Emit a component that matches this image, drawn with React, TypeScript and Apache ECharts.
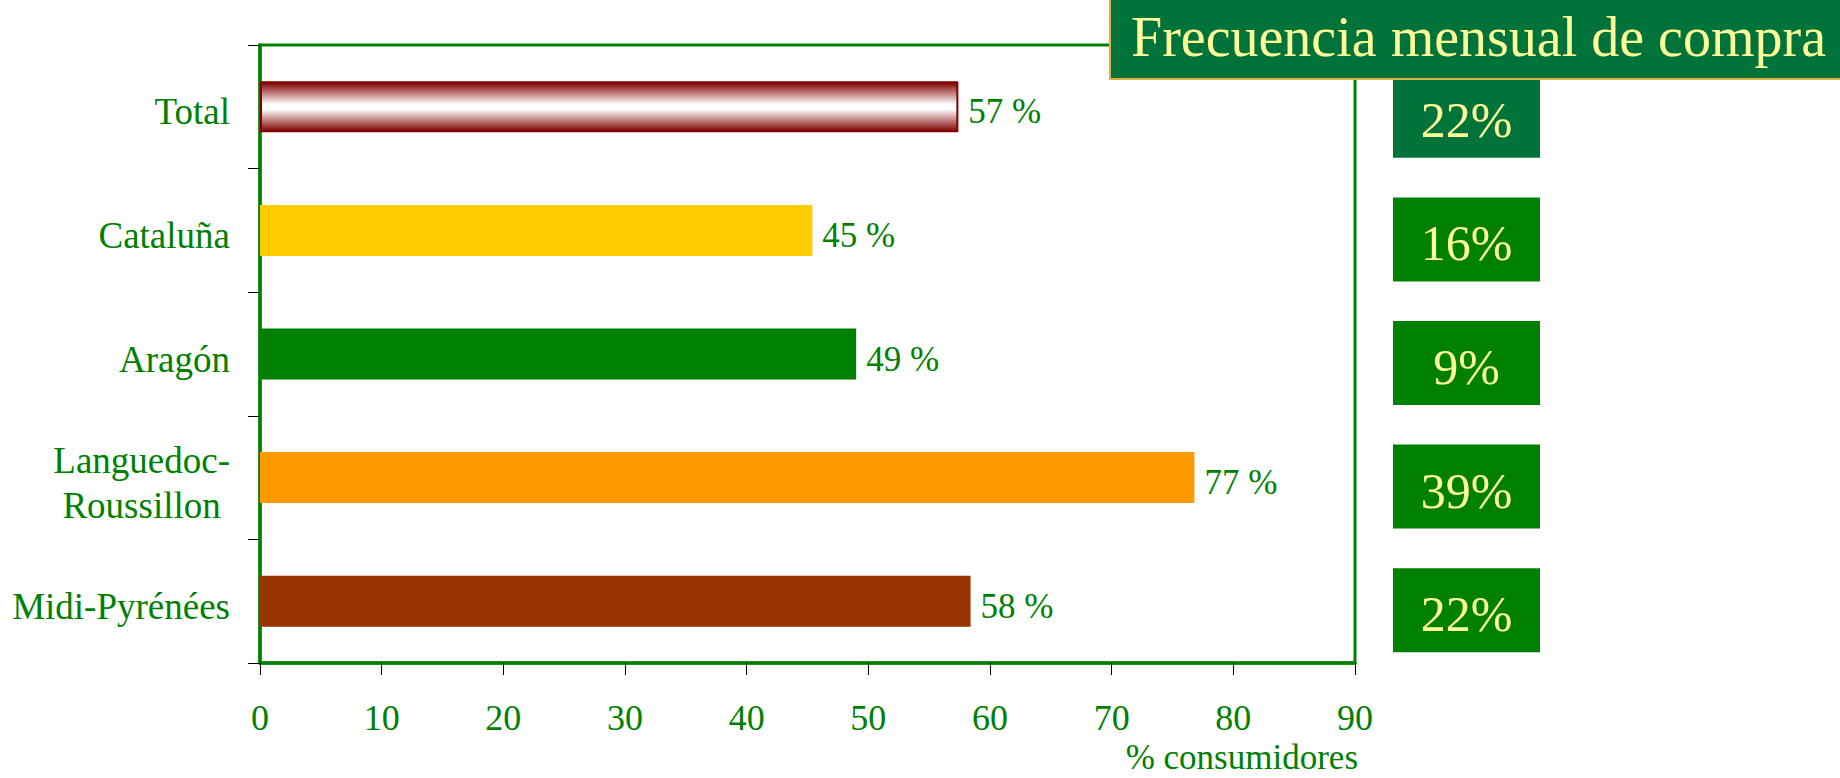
import React, { useEffect, useRef } from "react";
import * as echarts from "echarts";

const categories = ["Total", "Cataluña", "Aragón", "Languedoc-\nRoussillon\u00A0", "Midi-Pyrénées"];
const values = [57.4, 45.4, 49.0, 76.8, 58.4];
const barColors = ["gradient", "#FFCC00", "#008000", "#FF9900", "#993300"];
const freqLabels = ["22%", "16%", "9%", "39%", "22%"];
const freqColors = ["#00733A", "#008000", "#008000", "#008000", "#008000"];
const xTicks = { min: 0, max: 90, interval: 10 };
const titleText = "Frecuencia mensual de compra";
const axisName = "% consumidores";

const FONT = "'Liberation Serif', 'Times New Roman', serif";
const GREEN = "#008000";

export default function App() {
  const ref = useRef<HTMLDivElement>(null);
  useEffect(() => {
    if (!ref.current) return;
    const chart = echarts.init(ref.current, null, { renderer: "svg" });
    const totalGradient = new echarts.graphic.LinearGradient(0, 0, 0, 1, [
      { offset: 0, color: "#800000" },
      { offset: 0.45, color: "#FFFFFF" },
      { offset: 0.55, color: "#FFFFFF" },
      { offset: 1, color: "#800000" },
    ]);
    const option: any = {
      animation: false,
      backgroundColor: "#FFFFFF",
      grid: {
        left: 260,
        top: 45,
        width: 1095,
        height: 618,
        show: true,
        borderColor: GREEN,
        borderWidth: 3,
        backgroundColor: "transparent",
      },
      xAxis: {
        type: "value",
        min: xTicks.min,
        max: xTicks.max,
        interval: xTicks.interval,
        axisLine: { show: true, lineStyle: { color: GREEN, width: 3.5 } },
        axisTick: { show: true, length: 12, lineStyle: { color: "#000000", width: 1 } },
        splitLine: { show: false },
        axisLabel: { color: GREEN, fontSize: 36, fontFamily: FONT, margin: 39, lineHeight: 32 },
      },
      yAxis: {
        type: "category",
        data: categories,
        inverse: true,
        axisLine: { show: true, lineStyle: { color: GREEN, width: 3.5 } },
        axisTick: { show: true, length: 12, lineStyle: { color: "#000000", width: 1 } },
        axisLabel: {
          color: GREEN,
          fontSize: 37,
          fontFamily: FONT,
          margin: 30,
          formatter: (v: string) =>
            v
              .split("\n")
              .map((l) => `{a|${l}}`)
              .join("\n"),
          rich: {
            a: {
              color: GREEN,
              fontSize: 37,
              fontFamily: FONT,
              lineHeight: 45,
              padding: [10, 0, 0, 0],
            },
          },
        },
        splitLine: { show: false },
      },
      series: [
        {
          type: "bar",
          barWidth: 51,
          data: values.map((v, i) => ({
            value: v,
            itemStyle:
              barColors[i] === "gradient"
                ? { color: totalGradient, borderColor: "#800000", borderWidth: 2 }
                : { color: barColors[i] },
          })),
          label: {
            show: true,
            position: "right",
            distance: 10,
            offset: [0, 5],
            color: GREEN,
            fontSize: 35,
            fontFamily: FONT,
            formatter: (p: any) => `${Math.round(p.value)} %`,
          },
        },
        {
          type: "custom",
          clip: false,
          z: 5,
          data: freqLabels.map((t, i) => [xTicks.max, i]),
          renderItem: (params: any, api: any) => {
            const idx = params.dataIndex;
            const pt = api.coord([api.value(0), api.value(1)]);
            const w = 147;
            const h = 84;
            const x = pt[0] + 38;
            const y = pt[1] + 9 - h / 2;
            return {
              type: "group",
              children: [
                { type: "rect", shape: { x, y, width: w, height: h }, style: { fill: freqColors[idx] } },
                {
                  type: "text",
                  x: x + w / 2,
                  y: y + h / 2 + 4,
                  style: {
                    text: freqLabels[idx],
                    fill: "#FFFF99",
                    font: `50px ${FONT}`,
                    align: "center",
                    verticalAlign: "middle",
                  },
                },
              ],
            };
          },
        },
      ],
      graphic: [
        {
          type: "rect",
          z: 100,
          shape: { x: 1110, y: -2, width: 740, height: 81 },
          style: { fill: "#00733A", stroke: "#E0B040", lineWidth: 2 },
        },
        {
          type: "text",
          z: 101,
          x: 1131,
          y: 37,
          style: {
            text: titleText,
            fill: "#FFFF99",
            font: `56px ${FONT}`,
            align: "left",
            verticalAlign: "middle",
          },
        },
        {
          type: "text",
          z: 101,
          right: 482,
          bottom: 3,
          style: {
            text: axisName,
            fill: GREEN,
            font: `35px ${FONT}`,
          },
        },
      ],
    };
    chart.setOption(option);
    return () => chart.dispose();
  }, []);
  return (
    <div
      ref={ref}
      style={{ position: "fixed", left: 0, top: 0, width: 1840, height: 778, background: "#fff" }}
    />
  );
}
